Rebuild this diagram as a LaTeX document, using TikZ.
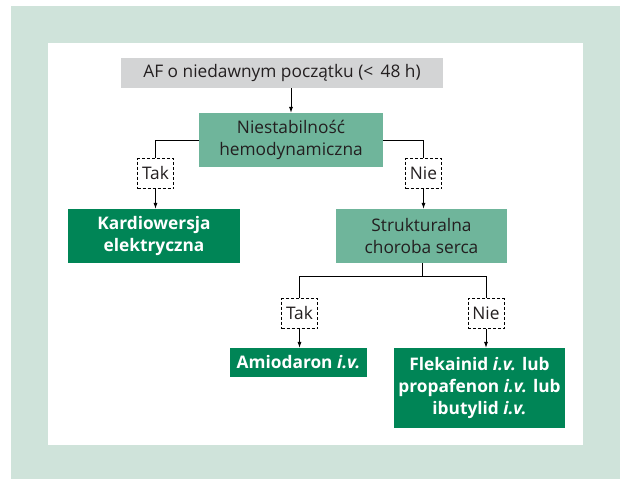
\documentclass[tikz,border=0pt]{standalone}
\usepackage{fontspec}
\setmainfont{Open Sans}
\usetikzlibrary{arrows.meta}
\definecolor{framegreen}{RGB}{207,227,218}
\definecolor{lightgreen}{RGB}{111,181,155}
\definecolor{darkgreen}{RGB}{0,133,86}
\definecolor{boxgrey}{RGB}{211,212,213}
\definecolor{textdark}{RGB}{35,31,32}
\newcommand{\chartfont}{\fontsize{17.3}{22}\selectfont}
\tikzset{
  greybox/.style={fill=boxgrey, text=textdark, minimum width=322pt, minimum height=30pt, inner sep=0pt},
  lightbox/.style={fill=lightgreen, text=textdark, align=center, minimum width=#1, minimum height=54pt, inner sep=0pt},
  darkbox/.style={fill=darkgreen, text=white, font=\chartfont\bfseries, align=center, minimum width=#1, inner sep=0pt},
  answer/.style={draw=black, densely dashed, line width=0.6pt, fill=white, text=textdark, minimum width=36pt, minimum height=30pt, inner sep=0pt},
  link/.style={draw=black, line width=0.7pt},
  arr/.style={link, -{Latex[length=6pt,width=4pt]}}
}
\begin{document}
\begin{tikzpicture}[x=1pt, y=-1pt, font=\chartfont]
    \useasboundingbox (0,0) rectangle (620,479);
    \fill[framegreen] (11,6) rectangle (620,479);
    \fill[white] (48,43) rectangle (583,445);

    % top of the chart
    \node[greybox] (onset) at (282,73) {AF o niedawnym początku (<\, 48 h)};
    \node[lightbox=184pt] (unstable) at (291,140) {Niestabilność\\hemodynamiczna};

    % first decision
    \node[answer] (yesA) at (155.5,173.5) {Tak};
    \node[answer] (noA) at (423.5,173.5) {Nie};
    \node[darkbox=172pt, minimum height=54pt] (cardio) at (154,236)
      {Kardiowersja\\elektryczna};
    \node[lightbox=171pt] (heart) at (421.5,236) {Strukturalna\\choroba serca};

    % second decision
    \coordinate (split) at (422,276);
    \node[answer] (yesB) at (299.5,313.5) {Tak};
    \node[answer] (noB) at (486,313.5) {Nie};
    \node[darkbox=137pt, minimum height=29pt] (amio) at (298.5,362.5)
      {Amiodaron \textit{i.v.}};
    \node[darkbox=171pt, minimum height=80pt] (flec) at (479.5,388)
      {Flekainid \textit{i.v.} lub\\propafenon \textit{i.v.} lub\\ibutylid
      \textit{i.v.}};

    \draw[arr] (onset.south -| unstable.north) -- (unstable.north);
    \draw[link] (unstable.west) -- (unstable.west -| yesA) -- (yesA.north);
    \draw[link] (unstable.east) -- (unstable.east -| noA) -- (noA.north);
    \draw[arr] (yesA.south) -- (yesA.south |- cardio.north);
    \draw[arr] (noA.south) -- (noA.south |- heart.north);

    \draw[link] (heart.south -| split) -- (split);
    \draw[link] (yesB.north) -- (yesB.north |- split) -- (noB.north |- split)
      -- (noB.north);
    \draw[arr] (yesB.south) -- (yesB.south |- amio.north);
    \draw[arr] (noB.south) -- (noB.south |- flec.north);
\end{tikzpicture}
\end{document}
